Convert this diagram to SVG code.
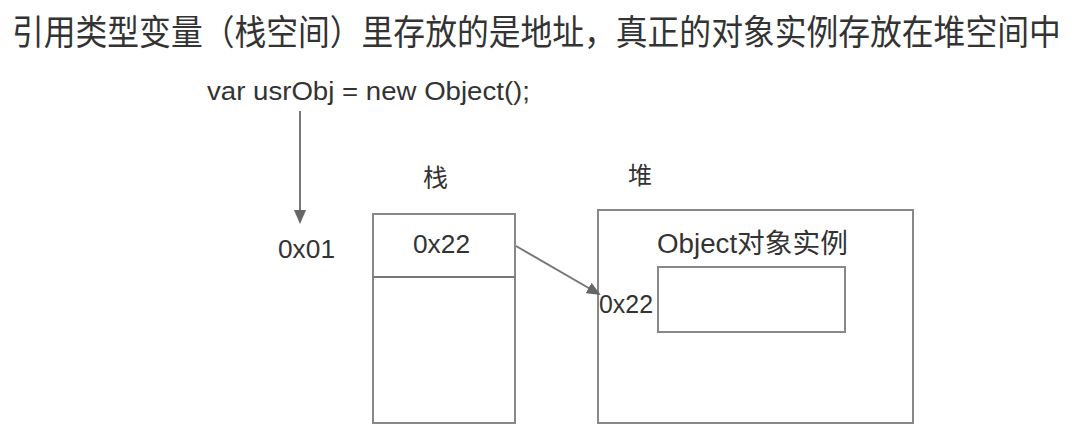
<svg xmlns="http://www.w3.org/2000/svg" width="1076" height="444" viewBox="0 0 1076 444">
<style>
.t{font-family:"Liberation Sans",Arial,"Noto Sans CJK SC",sans-serif;fill:#333}
.c{font-family:"Noto Sans CJK SC",sans-serif;fill:#333}
.box{fill:#fff;stroke:#888;stroke-width:2}
.ln{stroke:#777;stroke-width:2;fill:none}
</style>
<defs>
<marker id="ah2" markerWidth="14" markerHeight="12" refX="12" refY="6" orient="auto" markerUnits="userSpaceOnUse" viewBox="0 0 14 12">
<path d="M0,0 L14,6 L0,12 z" fill="#666"/>
</marker>
</defs>
<rect width="1076" height="444" fill="#fff"/>
<text id="title" class="c" transform="translate(12,45) scale(1,1.1)" x="0" y="0" font-size="31.8">引用类型变量（栈空间）里存放的是地址，真正的对象实例存放在堆空间中</text>
<g id="code"><text class="t" x="207" y="100" font-size="25" textLength="323" lengthAdjust="spacingAndGlyphs">var  usrObj = new Object();</text></g>
<g id="addr01"><text class="t" x="278" y="258" font-size="25" textLength="57" lengthAdjust="spacingAndGlyphs">0x01</text></g>
<g id="stack">
<text class="c" x="423" y="187" font-size="25">栈</text>
<rect class="box" x="373" y="214" width="142" height="209"/>
<line class="ln" x1="373" y1="277" x2="515" y2="277"/>
<text class="t" x="413" y="253" font-size="25" textLength="57" lengthAdjust="spacingAndGlyphs">0x22</text>
</g>
<g id="heap">
<text class="c" x="628" y="184" font-size="24">堆</text>
<rect class="box" x="598" y="210" width="315" height="213"/>
<text class="t" x="657" y="253" font-size="27" textLength="191" lengthAdjust="spacingAndGlyphs">Object对象实例</text>
<rect class="box" x="658" y="267" width="187" height="65"/>
<text class="t" x="599" y="313" font-size="25" textLength="54" lengthAdjust="spacingAndGlyphs">0x22</text>
</g>
<g id="connectors">
<line class="ln" x1="300" y1="111" x2="300" y2="222" marker-end="url(#ah2)"/>
<line class="ln" x1="516" y1="246" x2="599" y2="294" marker-end="url(#ah2)"/>
</g>
</svg>
